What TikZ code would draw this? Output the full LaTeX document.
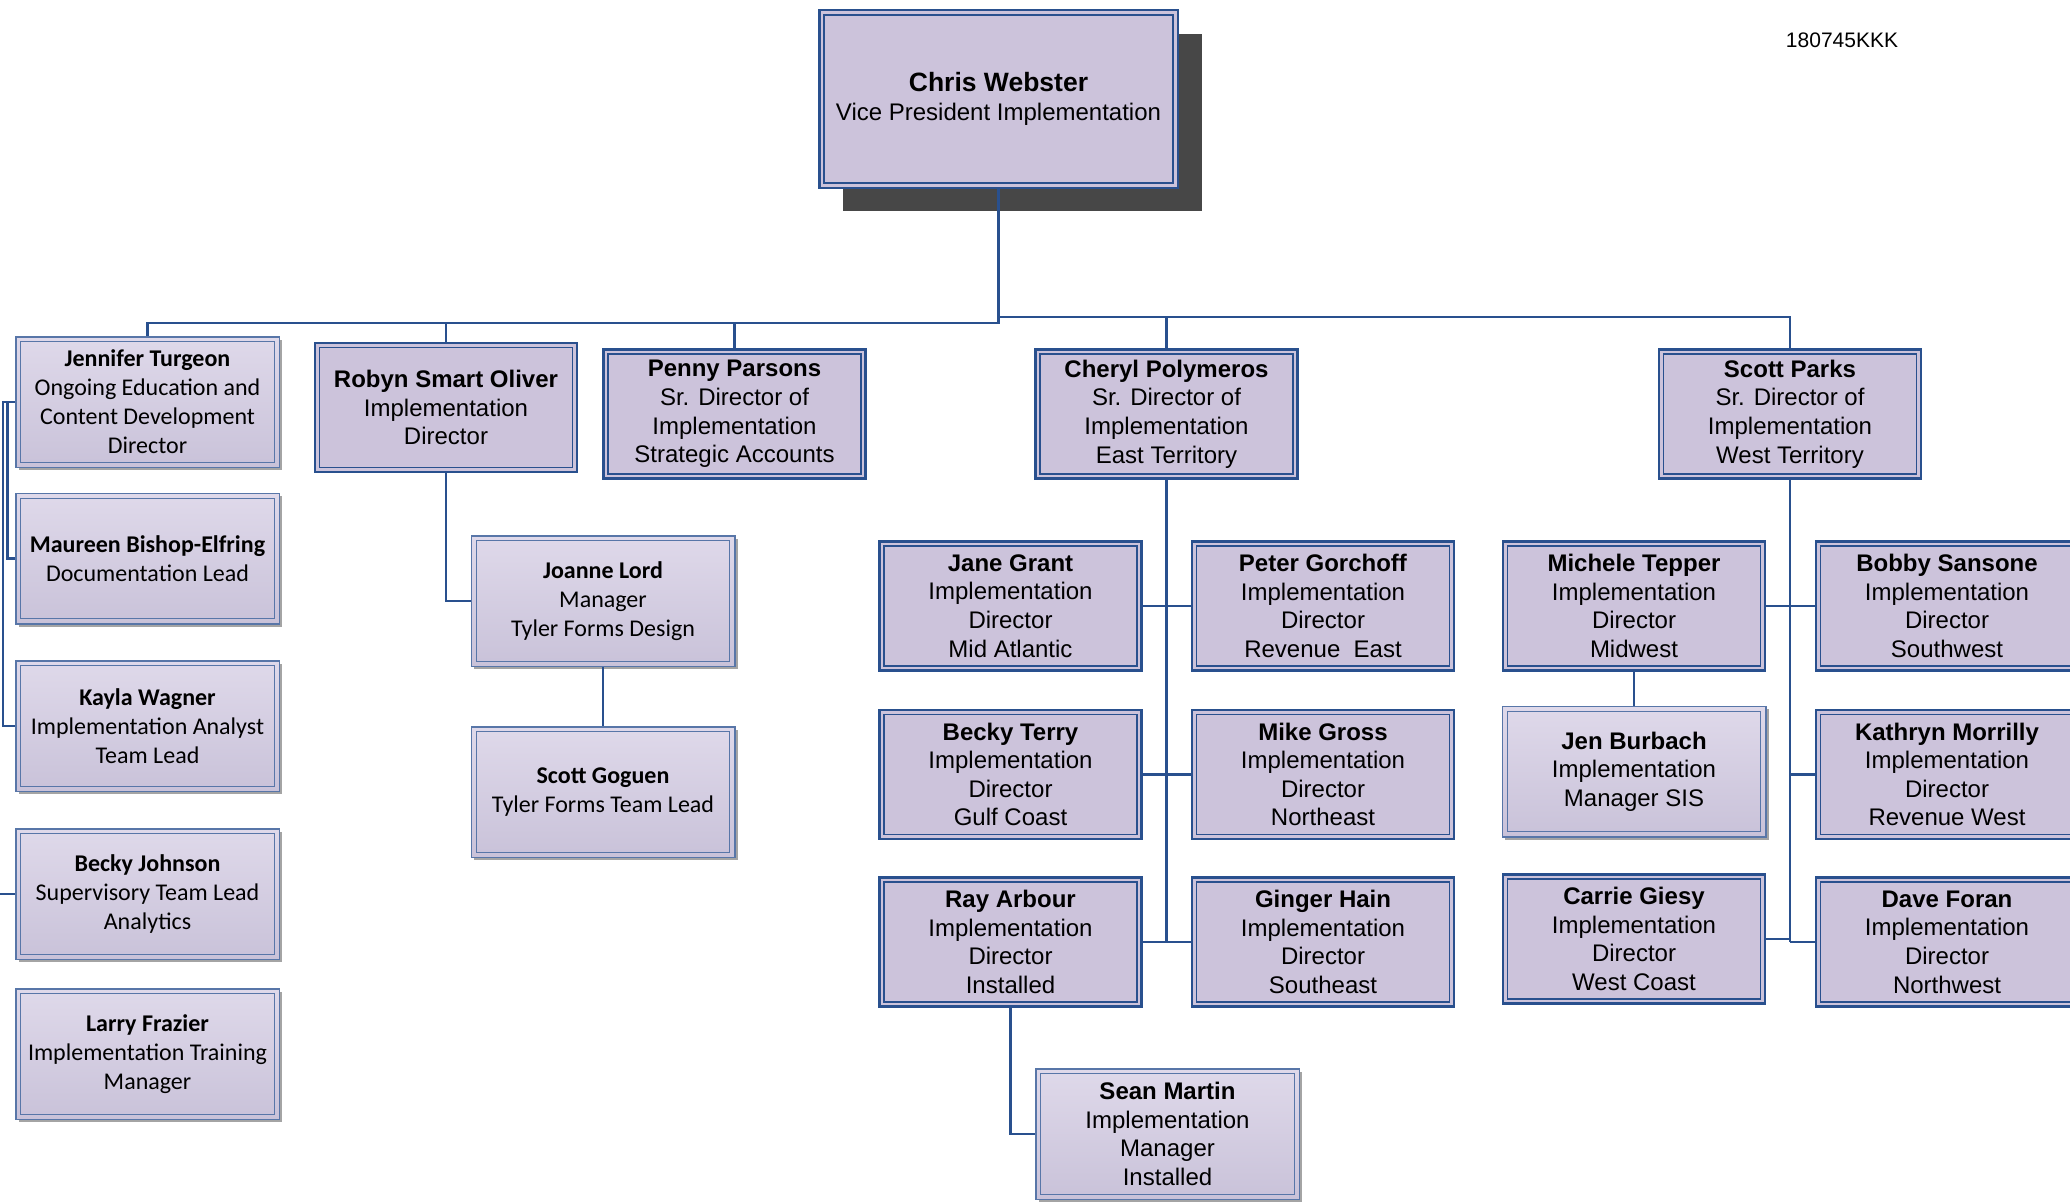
\documentclass[tikz,border=0pt]{standalone}
\usepackage{fontspec}
\setmainfont{Liberation Sans}
\newfontfamily\arialf{Liberation Sans}
\newfontfamily\calif{Carlito}
\usetikzlibrary{shadows}

\definecolor{boxfill}{RGB}{204,195,219}
\definecolor{boxtop}{RGB}{223,217,234}
\definecolor{boxbot}{RGB}{201,194,217}
\definecolor{navy}{RGB}{41,80,142}
\definecolor{softblue}{RGB}{88,118,168}
\definecolor{vpshadow}{RGB}{71,71,71}

\tikzset{
  conn/.style={draw=navy, line width=2.6pt},
  flatbox/.style={draw=navy, line width=2.5pt, fill=boxfill,
    minimum width=262pt, minimum height=129pt, inner sep=1pt, align=center,
    font={\arialf\fontsize{24}{28.6}\selectfont},
    path picture={\draw[navy, line width=1.6pt]
      ([shift={(4.6pt,-4.6pt)}]path picture bounding box.north west) rectangle
      ([shift={(-4.6pt,4.6pt)}]path picture bounding box.south east);}},
  vpbox/.style={flatbox, minimum width=358.5pt, minimum height=177.5pt,
    drop shadow={shadow xshift=24pt, shadow yshift=-23.5pt, fill=vpshadow, opacity=1}},
  softbox/.style={draw=softblue, line width=1.5pt, top color=boxtop, bottom color=boxbot,
    drop shadow={shadow xshift=3pt, shadow yshift=-3pt, fill=black!42, opacity=0.85},
    minimum width=263.5pt, minimum height=130.5pt, inner sep=1pt, align=center,
    path picture={\draw[softblue, line width=1pt]
      ([shift={(5pt,-5pt)}]path picture bounding box.north west) rectangle
      ([shift={(-5pt,5pt)}]path picture bounding box.south east);}},
  softcal/.style={softbox, font={\calif\fontsize{24}{29}\selectfont}},
  softari/.style={softbox, font={\arialf\fontsize{24}{28.6}\selectfont}},
}

\begin{document}
\begin{tikzpicture}[x=1pt, y=-1pt]
\useasboundingbox (0,0) rectangle (2070,1204);

% document code
\node[anchor=base, font={\arialf\fontsize{21}{25}\selectfont}] (code) at (1842,48) {180745KKK};

% top of the chart
\node[vpbox] (chris) at (998.5,99)
  {{\fontsize{26.5}{30}\selectfont\bfseries Chris Webster}\\Vice President Implementation};

% direct reports
\node[softcal] (jennifer) at (147.5,402)
  {\textbf{Jennifer Turgeon}\\Ongoing Education and\\Content Development\\Director};
\node[flatbox] (robyn) at (446,407.5)
  {\textbf{Robyn Smart Oliver}\\Implementation\\Director};
\node[flatbox] (penny) at (734.5,414)
  {\textbf{Penny Parsons}\\Sr. Director of\\Implementation\\Strategic Accounts};
\node[flatbox] (cheryl) at (1166.5,414)
  {\textbf{Cheryl Polymeros}\\Sr. Director of\\Implementation\\East Territory};
\node[flatbox] (scottp) at (1790,414)
  {\textbf{Scott Parks}\\Sr. Director of\\Implementation\\West Territory};

% education and training column
\node[softcal] (maureen) at (147.5,558.5)
  {\textbf{Maureen Bishop-Elfring}\\Documentation Lead};
\node[softcal] (kayla) at (147.5,726)
  {\textbf{Kayla Wagner}\\Implementation Analyst\\Team Lead};
\node[softcal] (beckyj) at (147.5,894)
  {\textbf{Becky Johnson}\\Supervisory Team Lead\\Analytics};
\node[softcal] (larry) at (147.5,1054)
  {\textbf{Larry Frazier}\\Implementation Training\\Manager};

% forms design
\node[softcal] (joanne) at (603,601)
  {\textbf{Joanne Lord}\\Manager\\Tyler Forms Design};
\node[softcal] (goguen) at (603,792)
  {\textbf{Scott Goguen}\\Tyler Forms Team Lead};

% east territory
\node[flatbox] (jane) at (1010.5,606)
  {\textbf{Jane Grant}\\Implementation\\Director\\Mid Atlantic};
\node[flatbox] (peter) at (1323,606)
  {\textbf{Peter Gorchoff}\\Implementation\\Director\\Revenue\ \ East};
\node[flatbox] (beckyt) at (1010.5,774.5)
  {\textbf{Becky Terry}\\Implementation\\Director\\Gulf Coast};
\node[flatbox] (mike) at (1323,774.5)
  {\textbf{Mike Gross}\\Implementation\\Director\\Northeast};
\node[flatbox] (ray) at (1010.5,942)
  {\textbf{Ray Arbour}\\Implementation\\Director\\Installed};
\node[flatbox] (ginger) at (1323,942)
  {\textbf{Ginger Hain}\\Implementation\\Director\\Southeast};
\node[softari] (sean) at (1167.5,1134)
  {\textbf{Sean Martin}\\Implementation\\Manager\\Installed};

% west territory
\node[flatbox] (michele) at (1634,606)
  {\textbf{Michele Tepper}\\Implementation\\Director\\Midwest};
\node[flatbox] (bobby) at (1947,606)
  {\textbf{Bobby Sansone}\\Implementation\\Director\\Southwest};
\node[softari] (jenb) at (1634,771.5)
  {\textbf{Jen Burbach}\\Implementation\\Manager SIS};
\node[flatbox] (kathryn) at (1947,774.5)
  {\textbf{Kathryn Morrilly}\\Implementation\\Director\\Revenue West};
\node[flatbox] (carrie) at (1634,939)
  {\textbf{Carrie Giesy}\\Implementation\\Director\\West Coast};
\node[flatbox] (dave) at (1947,942)
  {\textbf{Dave Foran}\\Implementation\\Director\\Northwest};

% bus levels and left rails
\coordinate (busleft) at (0,323);
\coordinate (busright) at (0,317);
\coordinate (railA) at (3,0);
\coordinate (railB) at (7.5,0);
\coordinate (pageedge) at (0,0);

% connectors from the top box
\draw[conn] (chris.south) -- (chris.south |- busleft) -| (jennifer.north);
\draw[conn] (robyn.north) -- (robyn.north |- busleft);
\draw[conn] (penny.north) -- (penny.north |- busleft);
\draw[conn] (chris.south |- busright) -| (scottp.north);
\draw[conn] (cheryl.north) -- (cheryl.north |- busright);

% left column
\draw[conn] (jennifer.west) -- (jennifer.west -| railA) |- (kayla.west);
\draw[conn] (jennifer.west -| railB) |- (maureen.west);
\draw[conn] (beckyj.west) -- (beckyj.west -| pageedge);

% forms design chain
\draw[conn] (robyn.south) |- (joanne.west);
\draw[conn] (joanne.south) -- (goguen.north);

% east territory
\draw[conn] (cheryl.south) -- (cheryl.south |- ray.east);
\draw[conn] (jane.east) -- (peter.west);
\draw[conn] (beckyt.east) -- (mike.west);
\draw[conn] (ray.east) -- (ginger.west);
\draw[conn] (ray.south) |- (sean.west);

% west territory
\draw[conn] (scottp.south) -- (scottp.south |- dave.west);
\draw[conn] (michele.east) -- (bobby.west);
\draw[conn] (michele.south) -- (jenb.north);
\draw[conn] (scottp.south |- kathryn.west) -- (kathryn.west);
\draw[conn] (carrie.east) -- (carrie.east -| scottp.south);
\draw[conn] (scottp.south |- dave.west) -- (dave.west);
\end{tikzpicture}
\end{document}
